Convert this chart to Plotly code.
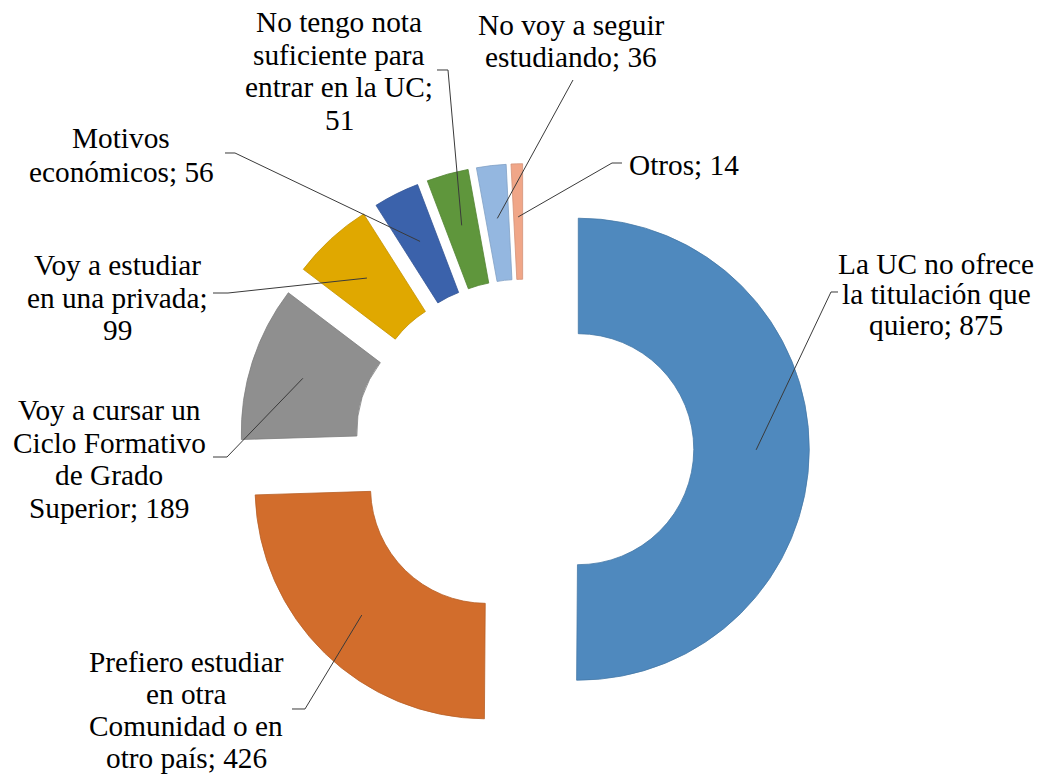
import math
import plotly.graph_objects as go

# ---------------- data ----------------
categories = [
    "La UC no ofrece la titulación que quiero",
    "Prefiero estudiar en otra Comunidad o en otro país",
    "Voy a cursar un Ciclo Formativo de Grado Superior",
    "Voy a estudiar en una privada",
    "Motivos económicos",
    "No tengo nota suficiente para entrar en la UC",
    "No voy a seguir estudiando",
    "Otros",
]
values = [875, 426, 189, 99, 56, 51, 36, 14]

# label text broken into lines ({v} = value)
label_lines = [
    ["La UC no ofrece", "la titulación que", "quiero; {v}"],
    ["Prefiero estudiar", "en otra", "Comunidad o en", "otro país; {v}"],
    ["Voy a cursar un", "Ciclo Formativo", "de Grado", "Superior; {v}"],
    ["Voy a estudiar", "en una privada;", "{v}"],
    ["Motivos", "económicos; {v}"],
    ["No tengo nota", "suficiente para", "entrar en la UC;", "{v}"],
    ["No voy a seguir", "estudiando; {v}"],
    ["Otros; {v}"],
]

# ---------------- style / layout ----------------
colors = ["#4F89BE", "#D26D2C", "#8F8F8F", "#E0A800",
          "#3B62AB", "#5F963C", "#94B7E0", "#F0A688"]

W, H = 1045, 778
CX, CY = 524, 449          # pie centre (px)
R = 231                     # outer radius (px)
PULL = 0.235
HOLE = 0.5
FONT = dict(family="Liberation Serif", size=29.3, color="#000000")

# label placement: centre x, first-line centre y, line spacing (px)
label_pos = [
    (936, 264, 30.5),
    (186, 662, 32.0),
    (109, 410, 32.5),
    (117, 265, 32.5),
    (121, 138, 34.0),
    (339, 22, 32.7),
    (571, 25, 32.0),
    (684, 165, 32.0),
]
# leader line label-side stub: (x_start, y, x_end)
leader_stub = [
    (838, 292, 831),
    (292, 709, 305),
    (213, 457, 227),
    (213, 293, 228),
    (225, 153, 235),
    (437, 70, 448),
    (573, 80, 573),
    (622, 163, 612),
]


def darker(hexcol, f=0.88):
    r, g, b = (int(hexcol[i:i + 2], 16) for i in (1, 3, 5))
    return "rgb(%d,%d,%d)" % (r * f, g * f, b * f)


def px(x):
    return x / W


def py(y):
    return 1 - y / H


S = 2 * R * (1 + PULL)
fig = go.Figure(go.Pie(
    labels=categories,
    values=values,
    sort=False,
    direction="clockwise",
    rotation=0,
    hole=HOLE,
    pull=[PULL] * len(values),
    textinfo="none",
    hoverinfo="label+value",
    marker=dict(colors=colors,
                line=dict(color=[darker(c) for c in colors], width=0.8)),
    domain=dict(x=[px(CX - S / 2), px(CX + S / 2)],
                y=[py(CY + S / 2), py(CY - S / 2)]),
    showlegend=False,
))

# geometry derived from the values
total = float(sum(values))
shapes = []
annotations = []
cum = 0.0
for i, v in enumerate(values):
    mid = 2 * math.pi * (cum + v / 2) / total
    cum += v
    sx, sy = math.sin(mid), -math.cos(mid)
    pcx, pcy = CX + PULL * R * sx, CY + PULL * R * sy
    rm = 0.77 * R
    tx, ty = pcx + rm * sx, pcy + rm * sy
    x0, y0, x1 = leader_stub[i]
    path = "M %f,%f L %f,%f L %f,%f" % (px(x0), py(y0), px(x1), py(y0), px(tx), py(ty))
    shapes.append(dict(type="path", path=path, xref="paper", yref="paper",
                       line=dict(color="#3a3a3a", width=1)))
    lx, ly, sp = label_pos[i]
    for k, line in enumerate(label_lines[i]):
        annotations.append(dict(
            text=line.format(v=v), x=px(lx), y=py(ly + k * sp),
            xref="paper", yref="paper", xanchor="center", yanchor="middle",
            showarrow=False, font=FONT))

fig.update_layout(
    width=W, height=H,
    margin=dict(l=0, r=0, t=0, b=0),
    paper_bgcolor="white", plot_bgcolor="white",
    shapes=shapes, annotations=annotations,
)

fig.write_html("out.html", config={"displayModeBar": False},
               post_script="document.body.style.margin='0';document.body.style.padding='0';")
